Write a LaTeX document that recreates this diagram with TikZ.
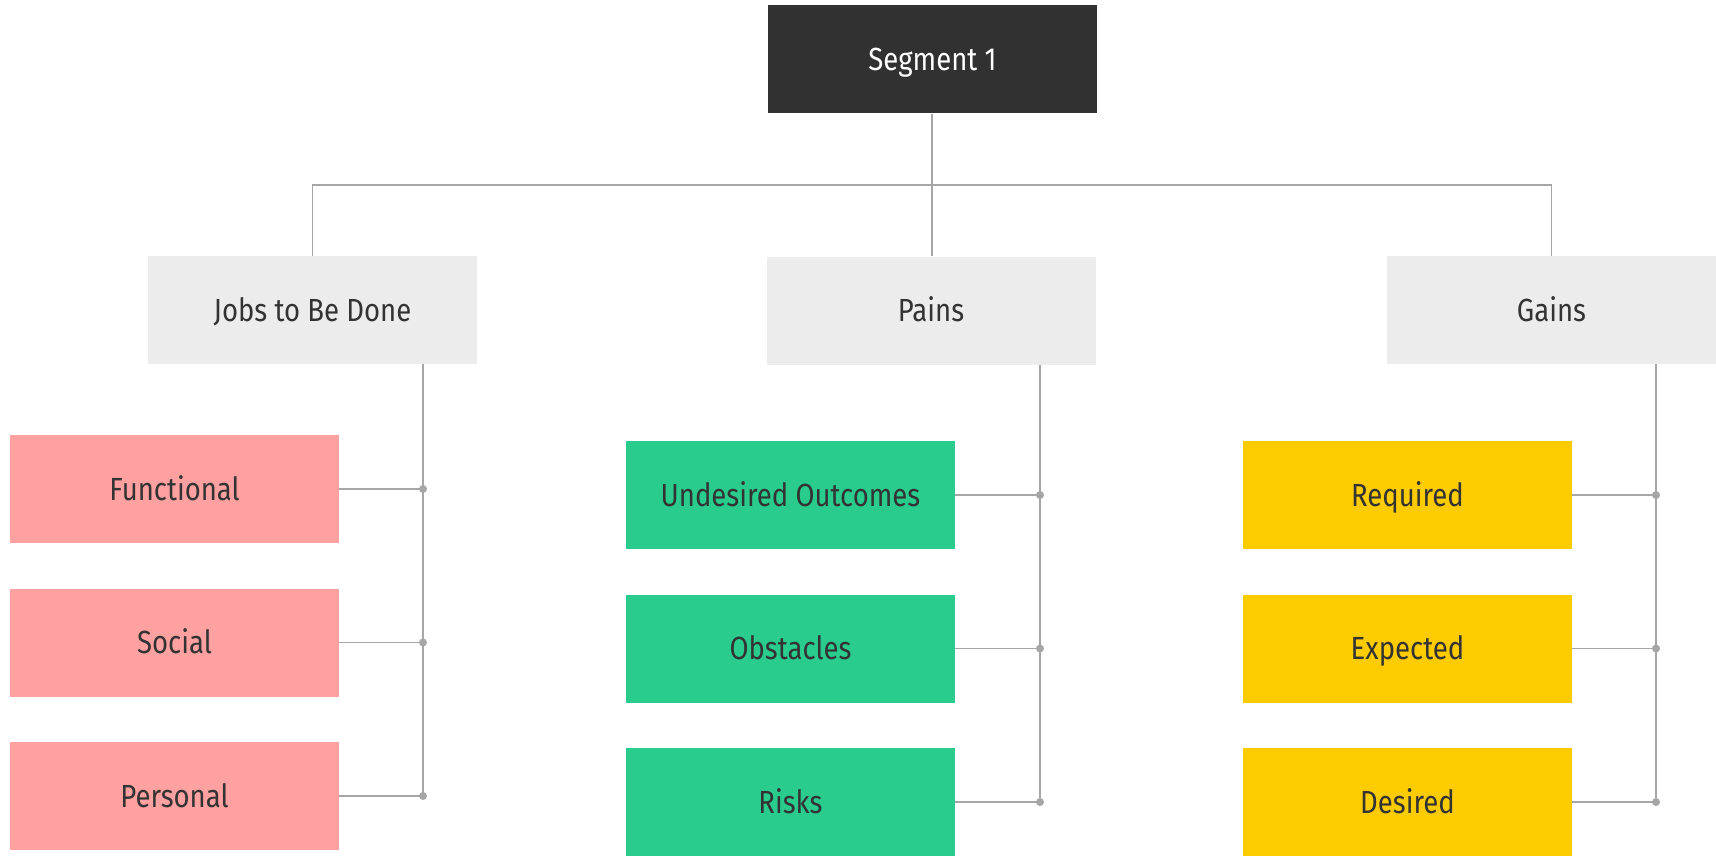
\documentclass[tikz,border=0pt]{standalone}
\usepackage{fontspec}
\setmainfont{Fira Sans}[FakeStretch=0.86]
\definecolor{darkbox}{HTML}{313131}
\definecolor{lightbox}{HTML}{ECECEC}
\definecolor{pinkbox}{HTML}{FFA1A1}
\definecolor{greenbox}{HTML}{29CC8C}
\definecolor{yellowbox}{HTML}{FDCC00}
\definecolor{txt}{HTML}{333333}
\definecolor{ln}{HTML}{A6A6A6}
\begin{document}
\begin{tikzpicture}[x=1pt,y=-1pt,
  box/.style={minimum width=329pt, minimum height=108pt, inner sep=0pt, text=txt,
    font=\fontsize{32}{36}\selectfont, text height=22pt, text depth=0pt},
  conn/.style={draw=ln, line width=1.8pt},
  dot/.style={fill=ln}]
\useasboundingbox (0,0) rectangle (1716,856);
\node[box, fill=darkbox, text=white] (seg) at (932.5,59.5) {Segment 1};
\node[box, fill=lightbox] (jobs) at (312.5,310) {Jobs to Be Done};
\node[box, fill=lightbox] (pains) at (931,310.5) {Pains};
\node[box, fill=lightbox] (gains) at (1551.5,310) {Gains};
\node[box, fill=pinkbox] (fun) at (174.5,489) {Functional};
\node[box, fill=pinkbox] (soc) at (174.5,642.5) {Social};
\node[box, fill=pinkbox] (per) at (174.5,796) {Personal};
\node[box, fill=greenbox] (und) at (790.5,495) {Undesired Outcomes};
\node[box, fill=greenbox] (obs) at (790.5,648.5) {Obstacles};
\node[box, fill=greenbox] (ris) at (790.5,802) {Risks};
\node[box, fill=yellowbox] (req) at (1407.5,495) {Required};
\node[box, fill=yellowbox] (exp) at (1407.5,648.5) {Expected};
\node[box, fill=yellowbox] (des) at (1407.5,802) {Desired};
\coordinate (bar) at (932,185);
\coordinate (jv) at (423,0);
\coordinate (pv) at (1040,0);
\coordinate (gv) at (1656,0);
% top tree
\draw[conn] (seg.south -| bar) -- (pains.north -| bar);
\draw[conn] (jobs.north) -- (jobs.north |- bar) -- (gains.north |- bar) -- (gains.north);
% branches
\draw[conn] (jv |- jobs.south) -- (jv |- per.east);
\draw[conn] (pv |- pains.south) -- (pv |- ris.east);
\draw[conn] (gv |- gains.south) -- (gv |- des.east);
\foreach \n/\v in {fun/jv,soc/jv,per/jv,und/pv,obs/pv,ris/pv,req/gv,exp/gv,des/gv}{
  \draw[conn] (\n.east) -- (\n.east -| \v);
  \fill[dot] (\n.east -| \v) circle (4pt);
}
\end{tikzpicture}
\end{document}
